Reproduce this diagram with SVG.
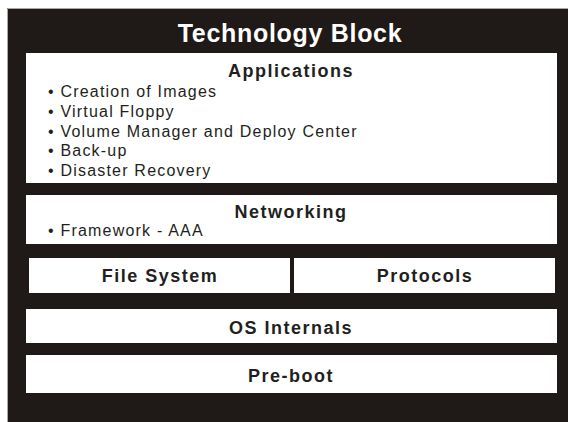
<svg xmlns="http://www.w3.org/2000/svg" width="568" height="422" viewBox="0 0 568 422">
  <style>
    .frame { fill: #1f1a17; }
    .edge { stroke: #a8a8a8; stroke-width: 1; fill: none; }
    .layer { fill: #ffffff; }
    .title { font-family: "Liberation Sans", Arial, sans-serif; font-weight: bold; font-size: 25px; letter-spacing: 0.7px; fill: #ffffff; text-anchor: middle; }
    .head { font-family: "Liberation Sans", Arial, sans-serif; font-weight: bold; font-size: 18px; letter-spacing: 1.5px; fill: #231f20; text-anchor: middle; }
    .item { font-family: "Liberation Sans", Arial, sans-serif; font-size: 16px; letter-spacing: 1.2px; fill: #231f20; }
  </style>

  <!-- outer block -->
  <g id="technology-block">
    <rect class="frame" x="7" y="8" width="561" height="414"/>
    <path class="edge" d="M7.5 422 V8.5 H568"/>
    <text class="title" x="290" y="42">Technology Block</text>
  </g>

  <g id="applications">
    <rect class="layer" x="26" y="53" width="531" height="130"/>
    <text class="head" x="291" y="77">Applications</text>
    <text class="item" x="48" y="97">• Creation of Images</text>
    <text class="item" x="48" y="117">• Virtual Floppy</text>
    <text class="item" x="48" y="136.5">• Volume Manager and Deploy Center</text>
    <text class="item" x="48" y="156">• Back-up</text>
    <text class="item" x="48" y="176">• Disaster Recovery</text>
  </g>

  <g id="networking">
    <rect class="layer" x="26" y="195" width="531" height="49"/>
    <text class="head" x="291" y="218">Networking</text>
    <text class="item" x="48" y="236">• Framework - AAA</text>
  </g>

  <g id="file-system">
    <rect class="layer" x="29" y="258" width="261" height="35"/>
    <text class="head" x="160" y="282">File System</text>
  </g>

  <g id="protocols">
    <rect class="layer" x="294" y="258" width="261" height="35"/>
    <text class="head" x="425" y="282">Protocols</text>
  </g>

  <g id="os-internals">
    <rect class="layer" x="26" y="309" width="531" height="34"/>
    <text class="head" x="291" y="334">OS Internals</text>
  </g>

  <g id="pre-boot">
    <rect class="layer" x="26" y="355" width="531" height="38"/>
    <text class="head" x="291" y="382">Pre-boot</text>
  </g>

  <g id="connectors"/>
</svg>
